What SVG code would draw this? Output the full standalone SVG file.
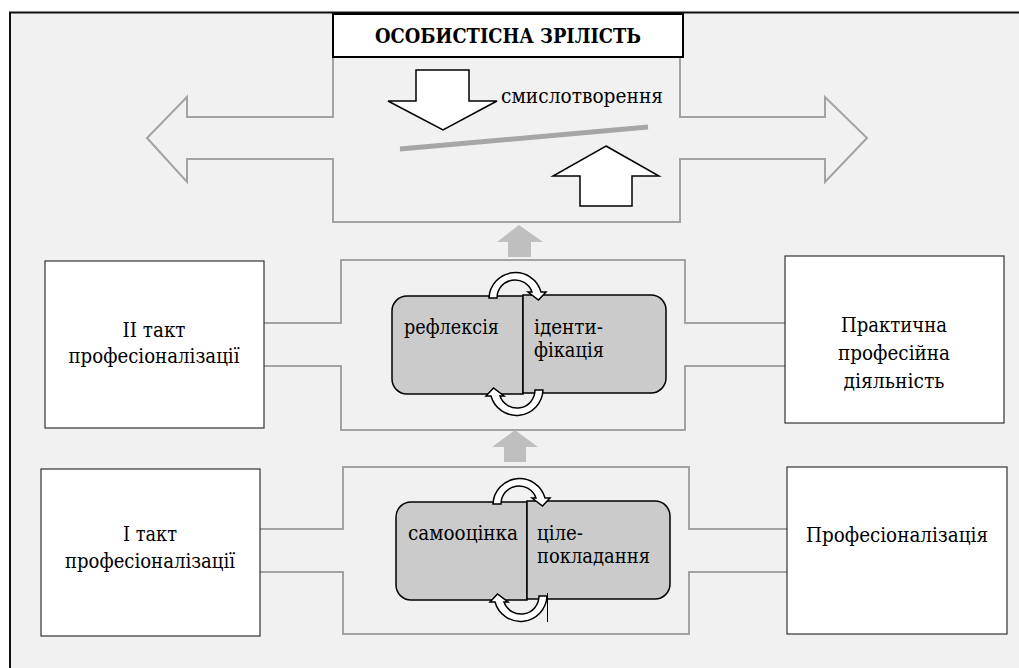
<svg xmlns="http://www.w3.org/2000/svg" width="1019" height="668" viewBox="0 0 1019 668" font-family="'DejaVu Serif', 'Liberation Serif', serif">
<style>
text{font-family:'DejaVu Serif','Liberation Serif',serif;font-size:21px;fill:#000}
.mid{text-anchor:middle}
.frame{fill:none;stroke:#a3a3a3;stroke-width:2}
.box{fill:#fff;stroke:#333;stroke-width:1.2}
.core{fill:#cbcbcb;stroke:#000;stroke-width:1.5}
.wa{fill:#fff;stroke:#000;stroke-width:1.5;stroke-linejoin:miter}
.ga{fill:#bfbfbf;stroke:none}
</style>
<defs>
<path id="circArrow" d="M489,298 A26.5,26.5 0 0 1 541,292 L546,292 L538.5,300 L528,292 L532,292 A18,18 0 0 0 497,298 Z"/>
</defs>
<g id="background">
<rect x="0" y="0" width="1019" height="668" fill="#fff"/>
<rect x="10" y="13" width="1009" height="655" fill="#f1f1f1"/>
<path d="M10,668 V12.5 H1019" fill="none" stroke="#111" stroke-width="2"/>
</g>
<g id="connectors">
<path class="frame" d="M333,57 V117 H187 V97 L147,138 L187,182 V159 H333 V222 H680 V159 H825 V182 L867,138 L825,97 V117 H680 V57"/>
<path class="frame" d="M264,323 H341 V260 H685 V323 H785 M785,366 H685 V430 H341 V366 H264"/>
<path class="frame" d="M260,529 H343 V467 H689 V529 H787 M787,572 H689 V634 H343 V572 H260"/>
<path class="ga" d="M519,225 L543,242 H531 V257 H508 V242 H497 Z"/>
<path class="ga" d="M515,430 L538,447 H526 V462 H504 V447 H492 Z"/>
</g>
<g id="title">
<rect x="333" y="14" width="350" height="43" fill="#fff" stroke="#000" stroke-width="2"/>
<text class="mid" x="508" y="43" textLength="266" lengthAdjust="spacingAndGlyphs" style="font-size:19.5px;font-weight:bold">ОСОБИСТІСНА ЗРІЛІСТЬ</text>
</g>
<g id="sense-making">
<path class="wa" d="M416,70 H469 V101 H497 L443,130 L388,101 H416 Z"/>
<line x1="400" y1="149" x2="648" y2="127" stroke="#a6a6a6" stroke-width="5"/>
<path class="wa" d="M606,146 L659,176 H632 V206 H580 V176 H553 Z"/>
<text x="501" y="103" textLength="162" lengthAdjust="spacingAndGlyphs">смислотворення</text>
</g>
<g id="stage-2">
<rect class="box" x="45" y="261" width="219" height="167"/>
<text class="mid" x="154" y="337" textLength="63" lengthAdjust="spacingAndGlyphs">II такт</text>
<text class="mid" x="154" y="363" textLength="171" lengthAdjust="spacingAndGlyphs">професіоналізації</text>
</g>
<g id="stage-1">
<rect class="box" x="41" y="469" width="219" height="167"/>
<text class="mid" x="150" y="541" textLength="54" lengthAdjust="spacingAndGlyphs">I такт</text>
<text class="mid" x="150" y="568" textLength="170" lengthAdjust="spacingAndGlyphs">професіоналізації</text>
</g>
<g id="practice">
<rect class="box" x="785" y="256" width="219" height="167"/>
<text class="mid" x="894" y="332" textLength="106" lengthAdjust="spacingAndGlyphs">Практична</text>
<text class="mid" x="894" y="360" textLength="112" lengthAdjust="spacingAndGlyphs">професійна</text>
<text class="mid" x="894" y="388" textLength="101" lengthAdjust="spacingAndGlyphs">діяльність</text>
</g>
<g id="professionalization">
<rect class="box" x="787" y="467" width="220" height="167"/>
<text class="mid" x="897" y="542" textLength="182" lengthAdjust="spacingAndGlyphs">Професіоналізація</text>
</g>
<g id="core-2">
<path class="core" d="M407,296 H523 V394 H407 A15,15 0 0 1 392,379 V311 A15,15 0 0 1 407,296 Z"/>
<path class="core" d="M523,295 H651 A15,15 0 0 1 666,310 V378 A15,15 0 0 1 651,393 H523 Z"/>
<use href="#circArrow" class="wa"/>
<use href="#circArrow" class="wa" transform="rotate(180 516 344)"/>
<text x="404" y="334" textLength="95" lengthAdjust="spacingAndGlyphs">рефлексія</text>
<text x="534" y="334" textLength="69" lengthAdjust="spacingAndGlyphs">іденти-</text>
<text x="534" y="357" textLength="70" lengthAdjust="spacingAndGlyphs">фікація</text>
</g>
<g id="core-1" transform="translate(4 206)">
<path class="core" d="M407,296 H523 V394 H407 A15,15 0 0 1 392,379 V311 A15,15 0 0 1 407,296 Z"/>
<path class="core" d="M523,295 H651 A15,15 0 0 1 666,310 V378 A15,15 0 0 1 651,393 H523 Z"/>
<use href="#circArrow" class="wa"/>
<use href="#circArrow" class="wa" transform="rotate(180 516 344)"/>
<line x1="543.5" y1="387" x2="543.5" y2="416" stroke="#000" stroke-width="1"/>
<text x="404" y="334" textLength="110" lengthAdjust="spacingAndGlyphs">самооцінка</text>
<text x="533" y="334" textLength="46" lengthAdjust="spacingAndGlyphs">ціле-</text>
<text x="533" y="357" textLength="113" lengthAdjust="spacingAndGlyphs">покладання</text>
</g>
</svg>
